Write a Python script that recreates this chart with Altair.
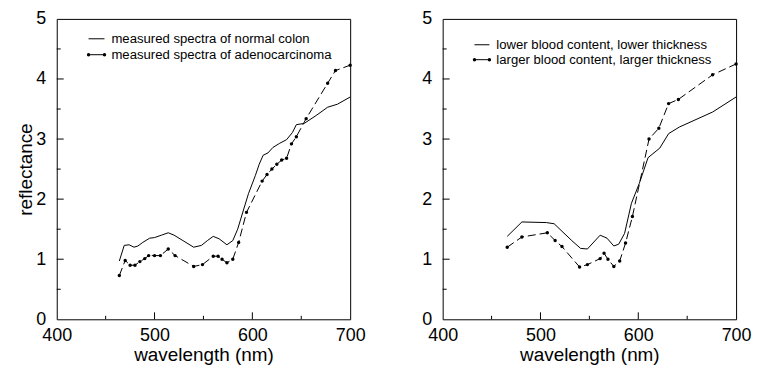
import altair as alt
import pandas as pd

# ---------------- data ----------------
# Left panel: measured spectra
wl_normal = [464, 469, 474, 479, 483, 488, 495, 500, 507, 514, 520, 529, 540, 548, 554, 560,
             566, 574, 580, 585, 590, 596, 603, 607, 611, 616, 621, 628, 635, 641, 645, 653,
             665, 677, 687, 700]
r_normal = [0.97, 1.23, 1.24, 1.20, 1.22, 1.28, 1.35, 1.36, 1.40, 1.44, 1.40, 1.31, 1.20, 1.23,
            1.31, 1.38, 1.34, 1.24, 1.31, 1.50, 1.77, 2.09, 2.39, 2.58, 2.73, 2.77, 2.86, 2.93,
            2.99, 3.11, 3.24, 3.26, 3.39, 3.53, 3.58, 3.70]

wl_adeno = [464, 470, 475, 480, 485, 490, 494, 500, 506, 514, 521, 540, 549, 560, 565, 569,
            574, 580, 586, 594, 610, 615, 620, 625, 630, 635, 640, 645, 655, 677, 685, 700]
r_adeno = [0.73, 0.98, 0.90, 0.90, 0.96, 1.01, 1.06, 1.06, 1.06, 1.17, 1.06, 0.88, 0.91, 1.05,
           1.05, 1.00, 0.94, 1.00, 1.28, 1.78, 2.30, 2.41, 2.50, 2.58, 2.65, 2.68, 2.92, 3.04,
           3.34, 3.93, 4.14, 4.23]

# Right panel: simulated spectra
wl_lower = [466, 481, 506, 514, 532, 541, 548, 561, 568, 575, 580, 586, 593, 601, 610, 622,
            631, 642, 676, 700]
r_lower = [1.38, 1.62, 1.61, 1.59, 1.31, 1.18, 1.17, 1.40, 1.35, 1.22, 1.25, 1.43, 1.93, 2.26,
           2.69, 2.85, 3.09, 3.20, 3.45, 3.70]

wl_larger = [466, 481, 507, 515, 522, 540, 548, 561, 565, 569, 575, 581, 587, 594, 611, 621,
             631, 641, 676, 700]
r_larger = [1.20, 1.37, 1.44, 1.31, 1.21, 0.87, 0.91, 1.01, 1.10, 1.00, 0.88, 0.97, 1.27, 1.71,
            3.00, 3.18, 3.59, 3.66, 4.07, 4.25]

left_legend = ["measured spectra of normal colon", "measured spectra of adenocarcinoma"]
right_legend = ["lower blood content, lower thickness", "larger blood content, larger thickness"]

x_label_values = [400, 500, 600, 700]
y_label_values = [0, 1, 2, 3, 4, 5]
x_major_ticks = [500, 600]
x_minor_ticks = [450, 550, 650]
y_major_ticks = [1, 2, 3, 4]
y_minor_ticks = [0.5, 1.5, 2.5, 3.5, 4.5]

x_title = "wavelength (nm)"
y_title = "reflectance"

# ---------------- chart ----------------
W, H = 295, 302
FONT = "Liberation Sans"

xs = alt.Scale(domain=[400, 700], nice=False, zero=False)
ys = alt.Scale(domain=[0, 5], nice=False, zero=False)


def panel(wl_a, r_a, wl_b, r_b, legend, show_y_title, leg):
    x_axis = alt.Axis(values=x_label_values, title=x_title, ticks=False, domain=False,
                      grid=False, labelFlush=False, labelPadding=7, titlePadding=1)
    y_kw = dict(values=y_label_values, ticks=False, domain=False, grid=False,
                labelPadding=11, titlePadding=0)
    if show_y_title:
        y_axis = alt.Axis(title=y_title, **y_kw)
    else:
        y_axis = alt.Axis(title="", **y_kw)

    X = alt.X("wavelength:Q", scale=xs, axis=x_axis)
    Y = alt.Y("reflectance:Q", scale=ys, axis=y_axis)

    df_a = pd.DataFrame({"wavelength": wl_a, "reflectance": r_a})
    df_b = pd.DataFrame({"wavelength": wl_b, "reflectance": r_b})

    solid = alt.Chart(df_a).mark_line(color="black", strokeWidth=1).encode(x=X, y=Y)
    dashed = alt.Chart(df_b).mark_line(color="black", strokeWidth=1,
                                       strokeDash=[8, 4]).encode(x=X, y=Y)
    dots = alt.Chart(df_b).mark_circle(color="black", size=12, opacity=1).encode(x=X, y=Y)

    # inward ticks
    yt_major = alt.Chart(pd.DataFrame({"reflectance": y_major_ticks})).mark_rule(
        color="black", strokeWidth=1).encode(y=Y, x=alt.value(0), x2=alt.value(7))
    yt_minor = alt.Chart(pd.DataFrame({"reflectance": y_minor_ticks})).mark_rule(
        color="black", strokeWidth=1).encode(y=Y, x=alt.value(0), x2=alt.value(4))
    xt_major = alt.Chart(pd.DataFrame({"wavelength": x_major_ticks})).mark_rule(
        color="black", strokeWidth=1).encode(x=X, y=alt.value(H), y2=alt.value(H - 7))
    xt_minor = alt.Chart(pd.DataFrame({"wavelength": x_minor_ticks})).mark_rule(
        color="black", strokeWidth=1).encode(x=X, y=alt.value(H), y2=alt.value(H - 3.5))

    # legend
    lx0, lx1, tx, ly1, ly2 = leg
    d1 = pd.DataFrame({"label": [legend[0]]})
    d2 = pd.DataFrame({"label": [legend[1]]})
    leg_line1 = alt.Chart(d1).mark_rule(color="black", strokeWidth=1).encode(
        x=alt.value(lx0), x2=alt.value(lx1), y=alt.value(ly1))
    leg_line2 = alt.Chart(d2).mark_rule(color="black", strokeWidth=1).encode(
        x=alt.value(lx0), x2=alt.value(lx1), y=alt.value(ly2))
    leg_dot_a = alt.Chart(d2).mark_circle(color="black", size=12, opacity=1).encode(
        x=alt.value(lx0), y=alt.value(ly2))
    leg_dot_b = alt.Chart(d2).mark_circle(color="black", size=12, opacity=1).encode(
        x=alt.value(lx1), y=alt.value(ly2))
    leg_text1 = alt.Chart(d1).mark_text(align="left", baseline="middle", font=FONT,
                                        fontSize=13.2, color="black").encode(
        x=alt.value(tx), y=alt.value(ly1), text="label:N")
    leg_text2 = alt.Chart(d2).mark_text(align="left", baseline="middle", font=FONT,
                                        fontSize=13.2, color="black").encode(
        x=alt.value(tx), y=alt.value(ly2), text="label:N")

    return alt.layer(solid, dashed, dots, yt_major, yt_minor, xt_major, xt_minor,
                     leg_line1, leg_line2, leg_dot_a, leg_dot_b, leg_text1, leg_text2
                     ).properties(width=W, height=H)


left = panel(wl_normal, r_normal, wl_adeno, r_adeno, left_legend, True,
             (32, 48, 55, 20, 36))
right = panel(wl_lower, r_lower, wl_larger, r_larger, right_legend, False,
              (32, 47, 54, 26, 41))

chart = alt.hconcat(left, right, spacing=55).properties(
    padding={"left": 8, "top": 0, "right": 0, "bottom": 0},
    background="white"
).configure_view(
    stroke="black", strokeWidth=1
).configure_axis(
    labelFont=FONT, titleFont=FONT, labelFontSize=18, titleFontSize=19,
    titleFontWeight="normal", labelColor="black", titleColor="black"
)

chart.save("out.html", embed_options={"renderer": "svg", "actions": False})
